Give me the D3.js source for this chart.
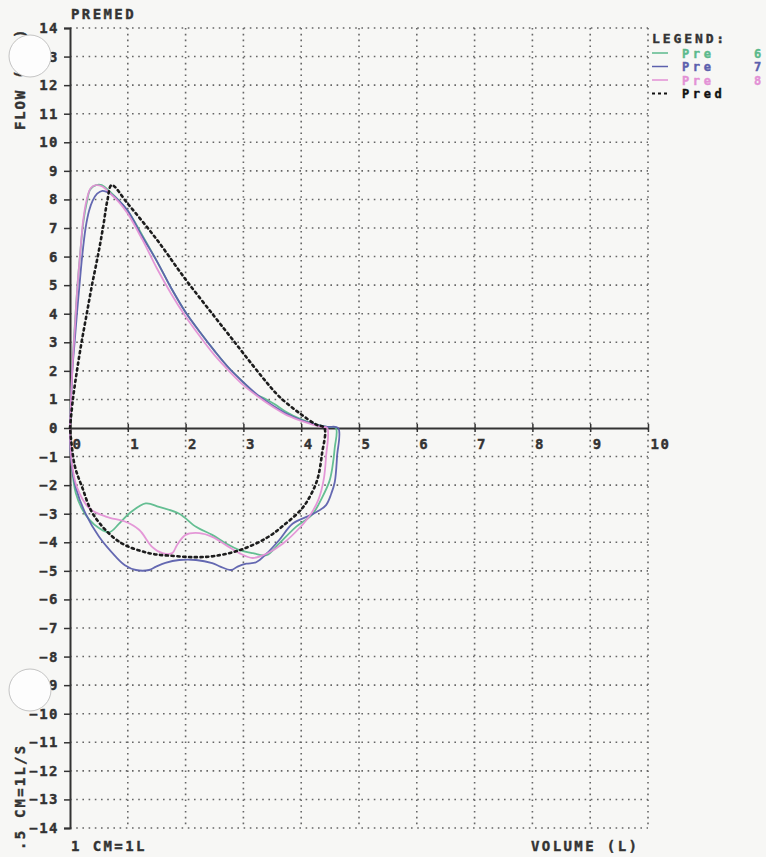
<!DOCTYPE html>
<html>
<head>
<meta charset="utf-8">
<script src="https://cdn.jsdelivr.net/npm/d3@7"></script>
<style>
  body { margin: 0; background: #f7f7f5; }
  svg { display: block; }
</style>
</head>
<body>
<div id="chart"></div>
<script>
// tick values
const xTicks = [0, 1, 2, 3, 4, 5, 6, 7, 8, 9, 10]
const yTicks = d3.range(-14, 15)

// volume (L), flow (L/S) pairs
const pre6 = [[0,0],[0.02,1.2],[0.05,2.5],[0.09,3.8],[0.13,5],[0.18,6.2],[0.23,7.2],[0.29,7.9],[0.35,8.35],[0.45,8.5],[0.55,8.5],[0.7,8.25],[0.85,7.95],[1.0,7.6],[1.25,6.75],[1.5,5.85],[1.75,4.9],[2.0,4.05],[2.25,3.35],[2.5,2.7],[2.75,2.1],[3.0,1.6],[3.2,1.2],[3.4,1.0],[3.55,0.82],[3.75,0.55],[4.0,0.3],[4.25,0.13],[4.45,0.04],[4.6,0],
  [4.58,-0.7],[4.54,-1.37],[4.49,-1.85],[4.37,-2.4],[4.19,-3.03],[3.91,-3.46],[3.62,-4.04],[3.4,-4.45],[3.16,-4.38],[2.93,-4.27],[2.7,-4.04],[2.46,-3.74],[2.18,-3.46],[1.89,-3.0],[1.54,-2.76],[1.31,-2.64],[1.02,-3.0],[0.85,-3.35],[0.68,-3.65],[0.5,-3.5],[0.33,-3.2],[0.2,-2.8],[0.1,-2.28],[0.03,-1.3],[0,0]]

const pre7 = [[0,0],[0.02,1],[0.04,2],[0.08,3],[0.12,4],[0.16,4.9],[0.21,6],[0.27,7],[0.33,7.6],[0.39,7.95],[0.47,8.2],[0.56,8.3],[0.7,8.2],[0.85,7.95],[1.0,7.6],[1.25,6.7],[1.5,5.85],[1.75,4.9],[2.0,4.05],[2.25,3.35],[2.5,2.7],[2.75,2.1],[3.0,1.6],[3.25,1.15],[3.5,0.8],[3.75,0.5],[4.0,0.28],[4.25,0.12],[4.45,0.04],[4.64,0],
  [4.62,-1.0],[4.58,-1.9],[4.52,-2.3],[4.43,-2.7],[4.3,-2.9],[4.16,-3.05],[3.85,-3.35],[3.62,-3.92],[3.4,-4.4],[3.22,-4.7],[3.05,-4.75],[2.9,-4.85],[2.79,-4.97],[2.6,-4.85],[2.46,-4.73],[2.18,-4.62],[1.89,-4.62],[1.65,-4.72],[1.49,-4.85],[1.37,-4.97],[1.14,-4.97],[0.95,-4.8],[0.79,-4.5],[0.5,-3.8],[0.27,-3.0],[0.1,-2.07],[0.02,-1.12],[0,0]]

const pre8 = [[0,0],[0.02,1.1],[0.05,2.4],[0.09,3.7],[0.13,5],[0.18,6.2],[0.23,7.3],[0.29,8.0],[0.36,8.4],[0.45,8.5],[0.56,8.45],[0.7,8.2],[0.85,7.9],[1.0,7.5],[1.25,6.6],[1.5,5.6],[1.75,4.7],[2.0,3.9],[2.25,3.2],[2.5,2.55],[2.75,2.0],[3.0,1.5],[3.25,1.1],[3.5,0.75],[3.75,0.45],[4.0,0.25],[4.2,0.12],[4.35,0.04],[4.45,0],
  [4.43,-1.0],[4.39,-1.8],[4.3,-2.5],[4.17,-3.0],[3.97,-3.5],[3.68,-4.05],[3.4,-4.4],[3.16,-4.55],[2.93,-4.38],[2.7,-4.1],[2.46,-3.81],[2.24,-3.68],[2.0,-3.74],[1.85,-4.1],[1.77,-4.38],[1.6,-4.38],[1.42,-4.16],[1.2,-3.57],[0.97,-3.29],[0.62,-3.1],[0.33,-2.8],[0.12,-2.07],[0.03,-1.2],[0,0]]

const pred = [[0,0],[0.05,1],[0.12,2],[0.2,3],[0.29,4],[0.38,5],[0.48,6],[0.57,7],[0.65,8],[0.72,8.5],[1.0,7.85],[1.5,6.6],[2.0,5.2],[2.5,3.9],[2.85,3.0],[3.16,2.2],[3.4,1.6],[3.62,1.1],[3.97,0.52],[4.26,0.12],[4.4,0],
  [4.36,-0.9],[4.28,-1.8],[4.15,-2.4],[4.0,-2.85],[3.7,-3.4],[3.4,-3.85],[2.93,-4.28],[2.5,-4.48],[2.18,-4.52],[1.8,-4.48],[1.37,-4.38],[0.85,-3.98],[0.41,-3.05],[0.21,-2.07],[0.08,-1.3],[0,0]]

const legendNames = ["Pre", "Pre", "Pre", "Pred"]
const legendNums = ["6", "7", "8", ""]
const colors = ["#5cba8c", "#5c60ad", "#e391d5", "#111"]
const series = [pre6, pre7, pre8, pred]

const width = 766
const height = 857
const font = "'DejaVu Sans Mono', monospace"

const svg = d3.select("#chart")
  .append("svg")
  .attr("width", width)
  .attr("height", height)

const x = d3.scaleLinear().domain([0, 10]).range([70, 648])
const y = d3.scaleLinear().domain([-14, 14]).range([828, 28])

// dotted grid
svg.append("g")
  .selectAll("line")
  .data(xTicks.slice(1))
  .join("line")
  .attr("x1", d => x(d)).attr("x2", d => x(d))
  .attr("y1", y(14)).attr("y2", y(-14))
  .attr("stroke", "#666")
  .attr("stroke-width", 1.6)
  .attr("stroke-dasharray", "1.6,4.2")

svg.append("g")
  .selectAll("line")
  .data(yTicks.filter(d => d !== 0))
  .join("line")
  .attr("x1", x(0)).attr("x2", x(10))
  .attr("y1", d => y(d)).attr("y2", d => y(d))
  .attr("stroke", "#666")
  .attr("stroke-width", 1.6)
  .attr("stroke-dasharray", "1.6,4.6")

// Y axis
const yAxis = svg.append("g")
  .attr("transform", `translate(${x(0)},0)`)
  .call(d3.axisLeft(y).tickValues(yTicks).tickSize(6).tickPadding(5))
yAxis.select(".domain").attr("stroke", "#333").attr("stroke-width", 2)
yAxis.selectAll(".tick line").attr("stroke", "#333").attr("stroke-width", 1.5)
yAxis.selectAll("text")
  .attr("font-family", font)
  .attr("font-weight", "bold")
  .attr("font-size", 14)
  .attr("letter-spacing", 1.5)
  .attr("fill", "#333")
  .attr("stroke", "#333")
  .attr("stroke-width", 0.4)

// X axis on the zero line
const xAxis = svg.append("g")
  .attr("transform", `translate(0,${y(0)})`)
  .call(d3.axisBottom(x).tickValues(xTicks).tickSize(4).tickSizeOuter(0))
xAxis.select(".domain").attr("stroke", "#333").attr("stroke-width", 2)
xAxis.selectAll(".tick line").attr("y1", -4).attr("stroke", "#333").attr("stroke-width", 1.5)
xAxis.selectAll("text")
  .attr("text-anchor", "start")
  .attr("x", 2)
  .attr("y", 11)
  .attr("font-family", font)
  .attr("font-weight", "bold")
  .attr("font-size", 14)
  .attr("letter-spacing", 1.5)
  .attr("fill", "#333")
  .attr("stroke", "#333")
  .attr("stroke-width", 0.4)

// loops
const line = d3.line()
  .x(d => x(d[0]))
  .y(d => y(d[1]))
  .curve(d3.curveCatmullRom.alpha(0.5))

svg.selectAll("path.loop")
  .data(series)
  .join("path")
  .attr("class", "loop")
  .attr("d", line)
  .attr("fill", "none")
  .attr("stroke", (d, i) => colors[i])
  .attr("stroke-width", (d, i) => i === 3 ? 2.6 : 1.8)
  .attr("stroke-dasharray", (d, i) => i === 3 ? "2.2,3.6" : null)
  .attr("stroke-linecap", (d, i) => i === 3 ? "round" : null)
  .attr("opacity", 0.95)

// texts
const txt = (s, tx, ty, fill, size, sp) => svg.append("text")
  .attr("x", tx).attr("y", ty)
  .attr("font-family", font)
  .attr("font-weight", "bold")
  .attr("font-size", size || 14)
  .attr("letter-spacing", sp || 2.4)
  .attr("fill", fill || "#333")
  .attr("stroke", fill || "#333")
  .attr("stroke-width", 0.4)
  .text(s)

txt("PREMED", 71, 19)
txt("1 CM=1L", 71, 851)
txt("VOLUME (L)", 531, 851)

svg.append("text")
  .attr("transform", "translate(25,130) rotate(-90)")
  .attr("font-family", font).attr("font-weight", "bold")
  .attr("font-size", 14).attr("letter-spacing", 1.8)
  .attr("fill", "#333").attr("stroke", "#333").attr("stroke-width", 0.4)
  .text("FLOW (L/S)")

svg.append("text")
  .attr("transform", "translate(25,850) rotate(-90)")
  .attr("font-family", font).attr("font-weight", "bold")
  .attr("font-size", 14).attr("letter-spacing", 2.2)
  .attr("fill", "#333").attr("stroke", "#333").attr("stroke-width", 0.4)
  .text(".5 CM=1L/S")

// legend
txt("LEGEND:", 652, 43, "#333", 13, 2.9)
legendNames.forEach((n, i) => {
  const ly = 53 + i * 13.5
  svg.append("line")
    .attr("x1", 652).attr("x2", 668)
    .attr("y1", ly).attr("y2", ly)
    .attr("stroke", colors[i])
    .attr("stroke-width", i === 3 ? 2 : 1.5)
    .attr("stroke-dasharray", i === 3 ? "3,3" : null)
  txt(n, 682, ly + 4.5, colors[i], 12, 3.6)
  if (legendNums[i]) txt(legendNums[i], 754, ly + 4.5, colors[i], 12, 0)
})

// punch holes of the scanned sheet
const holes = [[30, 56], [30, 690]]
svg.selectAll("circle.hole")
  .data(holes)
  .join("circle")
  .attr("class", "hole")
  .attr("cx", d => d[0]).attr("cy", d => d[1])
  .attr("r", 21)
  .attr("fill", "#fdfdfd")
  .attr("stroke", "#c4c4c4")
  .attr("stroke-width", 1)
</script>
</body>
</html>
